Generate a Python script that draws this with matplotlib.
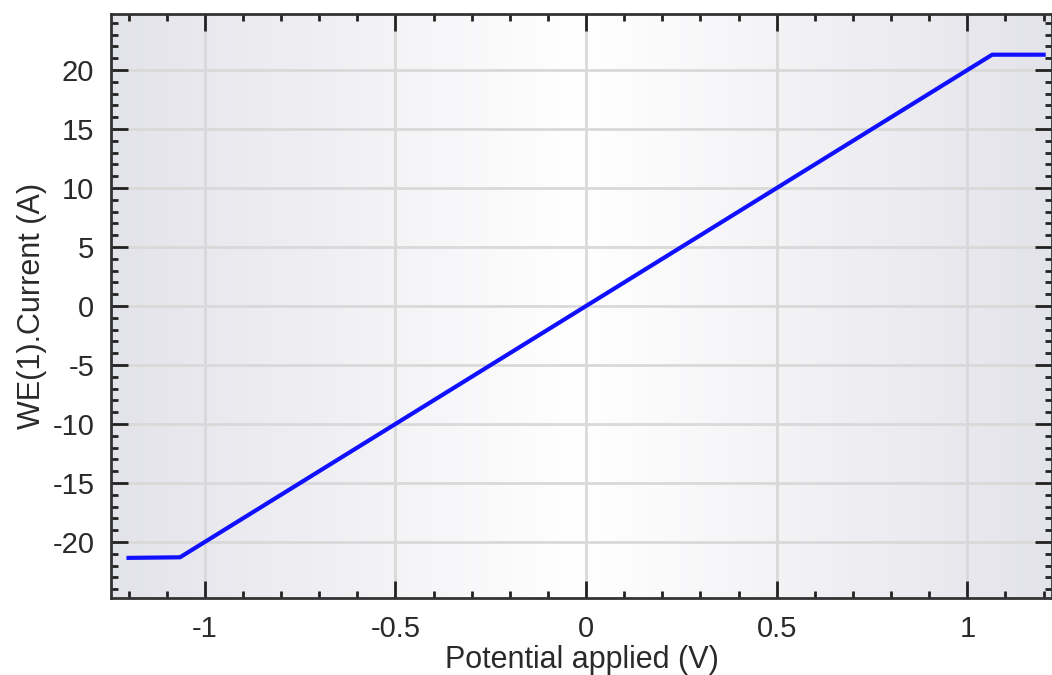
import numpy as np
import matplotlib
matplotlib.use("Agg")
import matplotlib.pyplot as plt
from matplotlib.ticker import MultipleLocator
from matplotlib.colors import LinearSegmentedColormap

# values
potential = [-1.2, -1.065, 1.065, 1.2]
current = [-21.35, -21.3, 21.3, 21.3]
xticks = [-1, -0.5, 0, 0.5, 1]
xlabels = ["-1", "-0.5", "0", "0.5", "1"]
yticks = [-20, -15, -10, -5, 0, 5, 10, 15, 20]

plt.rcParams["font.family"] = ["Liberation Sans", "DejaVu Sans"]

fig = plt.figure(figsize=(10.52, 6.75), dpi=100)
ax = fig.add_axes([111 / 1052, 1 - 598 / 675, (1052 - 111) / 1052, (598 - 14) / 675])

# horizontal grey-white-grey background
bg = LinearSegmentedColormap.from_list("bg", ["#e3e3ea", "#ffffff", "#e3e3ea"])
ax.imshow(np.linspace(0, 1, 256).reshape(1, -1), cmap=bg, aspect="auto",
          extent=[0, 1, 0, 1], transform=ax.transAxes, zorder=0)

ax.plot(potential, current, color="#1010ff", lw=3, zorder=3, solid_joinstyle="round")

ax.set_xlim(-1.246, 1.222)
ax.set_ylim(-24.75, 24.75)
ax.xaxis.set_minor_locator(MultipleLocator(0.1))
ax.yaxis.set_minor_locator(MultipleLocator(1))
ax.set_xticks(xticks, xlabels)
ax.set_yticks(yticks, [str(v) for v in yticks])

ax.grid(True, which="major", color="#d9d9d9", lw=2, zorder=1)
ax.tick_params(which="both", direction="in", top=True, right=True, color="#222222")
ax.tick_params(which="major", length=12, width=2, labelsize=21, pad=12, labelcolor="#2a2a2a")
ax.tick_params(which="minor", length=5, width=2)
for s in ax.spines.values():
    s.set_linewidth(2)
    s.set_color("#333333")

ax.set_xlabel("Potential applied (V)", fontsize=22, color="#2a2a2a", labelpad=2)
ax.set_ylabel("WE(1).Current (A)", fontsize=22, color="#2a2a2a", labelpad=4)

fig.savefig("out.png", dpi=100)
